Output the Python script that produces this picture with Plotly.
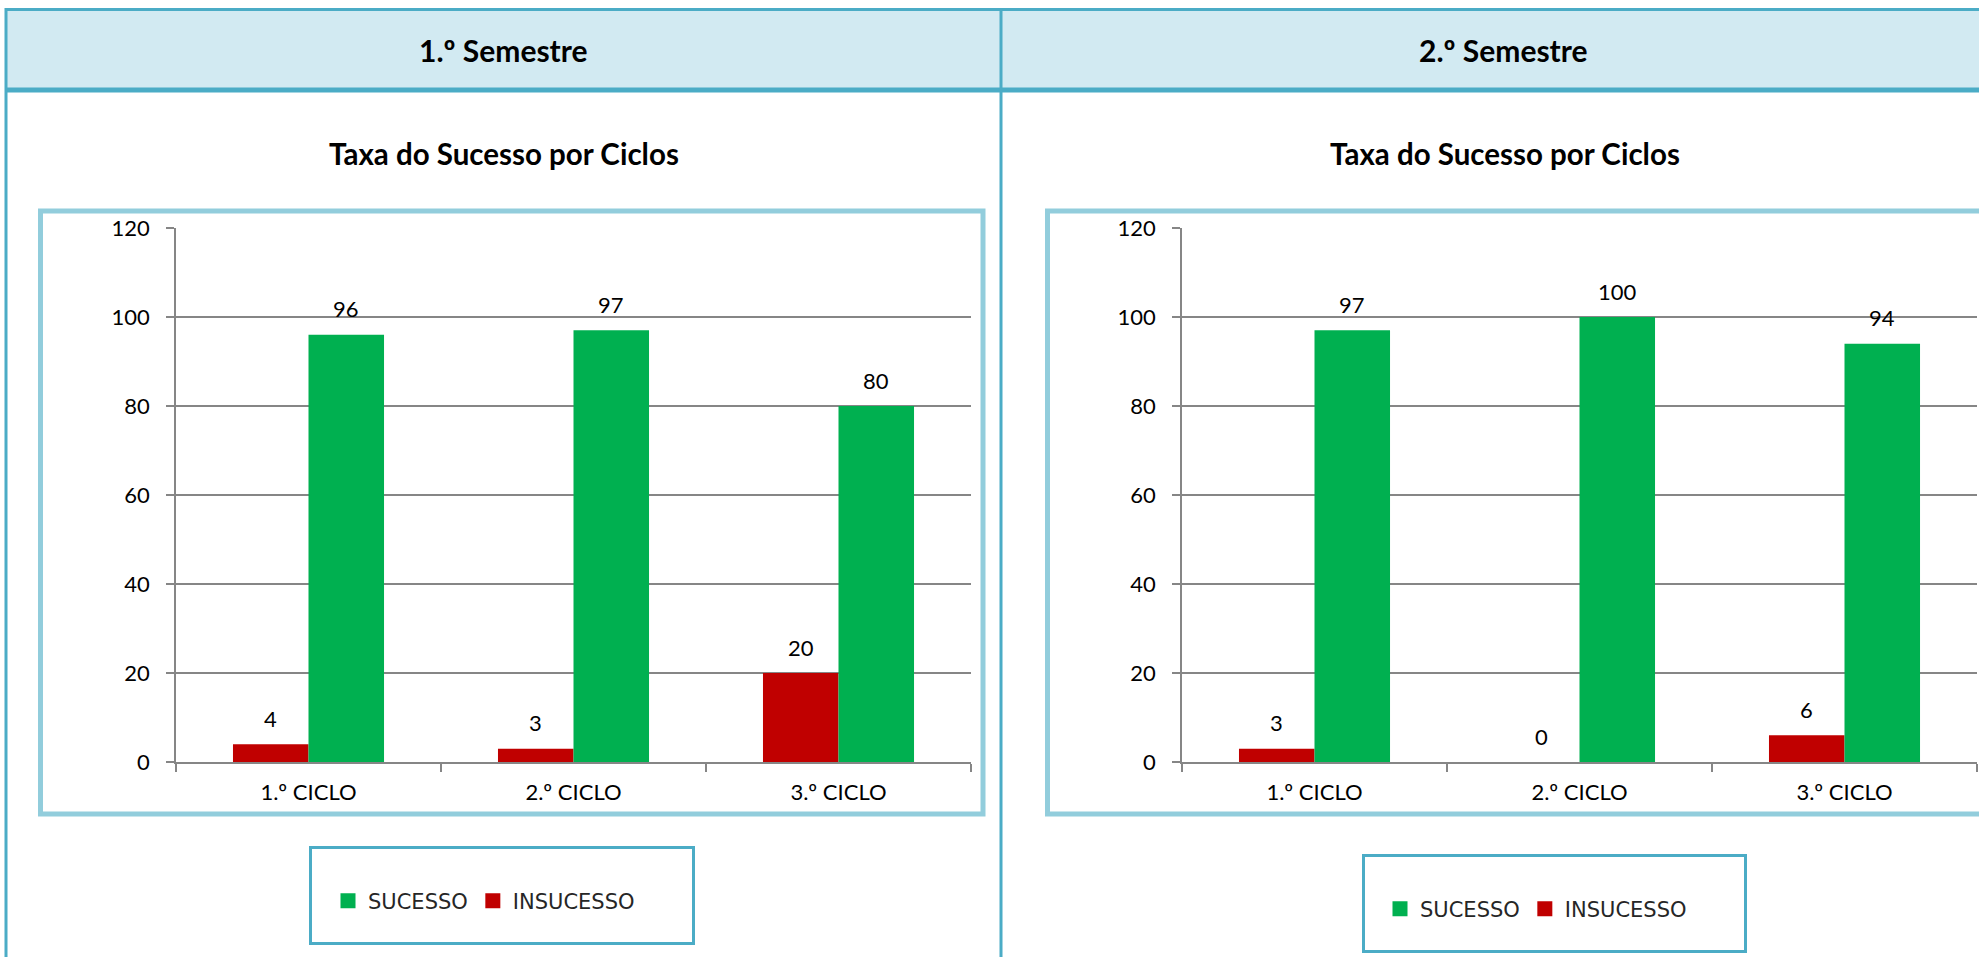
import plotly.graph_objects as go

# --- data ---
categorias = ["1.º CICLO", "2.º CICLO", "3.º CICLO"]
sucesso_s1 = [96, 97, 80]
insucesso_s1 = [4, 3, 20]
sucesso_s2 = [97, 100, 94]
insucesso_s2 = [3, 0, 6]
semestres = ["1.º Semestre", "2.º Semestre"]
titulo = "Taxa do Sucesso por Ciclos"
y_ticks = [0, 20, 40, 60, 80, 100, 120]

W, H = 1979, 957
VERDE = "#00B050"
VERMELHO = "#C00000"
BORDA = "#4BACC6"
BORDA_CLARA = "#92CDDC"
CINZA = "#868686"
TXT_FONT = "Lato"
BAR_W = 75.5  # px, used only to shift the value labels over each bar


def px(x):
    return x / W


def py(y):
    return 1 - y / H


fig = go.Figure()

paineis = [
    ("x", "y", "legend", insucesso_s1, sucesso_s1),
    ("x2", "y2", "legend2", insucesso_s2, sucesso_s2),
]
for xa, ya, leg, ins, suc in paineis:
    for nome, vals, cor, lado in [("INSUCESSO", ins, VERMELHO, -1), ("SUCESSO", suc, VERDE, 1)]:
        fig.add_trace(go.Bar(
            x=categorias, y=vals, name=nome, xaxis=xa, yaxis=ya,
            marker=dict(color=cor, line=dict(width=0)),
            showlegend=False, hoverinfo="skip",
        ))
        # value labels
        for cat, v in zip(categorias, vals):
            fig.add_annotation(
                x=cat, y=v, xref=xa, yref=ya, text=str(v), showarrow=False,
                xanchor="center", yanchor="middle", xshift=lado * BAR_W / 2, yshift=26,
                font=dict(family=TXT_FONT, size=22, color="black"),
            )
    # legend proxies (bigger squares than the default bar swatch)
    for nome, cor in [("SUCESSO", VERDE), ("INSUCESSO", VERMELHO)]:
        fig.add_trace(go.Scatter(
            x=[None], y=[None], mode="markers", name=nome, xaxis=xa, yaxis=ya,
            marker=dict(symbol="square", size=15, color=cor),
            legend=leg, showlegend=True,
        ))

eixo_x = dict(
    showline=True, linecolor=CINZA, linewidth=1.5, showgrid=False,
    ticks="outside", tickson="boundaries", ticklen=8, tickcolor=CINZA, tickwidth=1.5,
    tickfont=dict(family=TXT_FONT, size=22, color="black"),
    ticklabelstandoff=10, fixedrange=True, automargin=False,
)
eixo_y = dict(
    range=[0, 120], tickvals=y_ticks, showgrid=True, gridcolor=CINZA, gridwidth=1.5,
    zeroline=False, showline=True, linecolor=CINZA, linewidth=1.5,
    ticks="outside", ticklen=8, tickcolor=CINZA, tickwidth=1.5,
    tickfont=dict(family=TXT_FONT, size=22, color="black"),
    ticklabelstandoff=12, fixedrange=True, automargin=False,
)

fig.update_layout(
    width=W, height=H, margin=dict(l=0, r=0, t=0, b=0, pad=0, autoexpand=False),
    paper_bgcolor="white", plot_bgcolor="white",
    barmode="group", bargap=0.43, bargroupgap=0,
    xaxis=dict(eixo_x, domain=[px(176), px(971)], anchor="y"),
    yaxis=dict(eixo_y, domain=[py(762), py(228)], anchor="x"),
    xaxis2=dict(eixo_x, domain=[px(1182), px(1977)], anchor="y2"),
    yaxis2=dict(eixo_y, domain=[py(762), py(228)], anchor="x2"),
    legend=dict(orientation="h", x=px(328), y=py(901), xanchor="left", yanchor="middle",
                font=dict(family="DejaVu Sans", size=21, color="#262626"),
                bgcolor="rgba(0,0,0,0)", itemclick=False, itemdoubleclick=False),
    legend2=dict(orientation="h", x=px(1380), y=py(909), xanchor="left", yanchor="middle",
                 font=dict(family="DejaVu Sans", size=21, color="#262626"),
                 bgcolor="rgba(0,0,0,0)", itemclick=False, itemdoubleclick=False),
)

P = dict(xref="paper", yref="paper")
formas = [
    # header background
    dict(type="rect", x0=px(6), x1=px(2010), y0=py(10), y1=py(89),
         fillcolor="#D2EAF2", line=dict(width=0), layer="below", **P),
    # table lines
    dict(type="line", x0=px(5), x1=px(2010), y0=py(9.5), y1=py(9.5), line=dict(color=BORDA, width=3), **P),
    dict(type="line", x0=px(5), x1=px(2010), y0=py(90), y1=py(90), line=dict(color=BORDA, width=5), **P),
    dict(type="line", x0=px(6), x1=px(6), y0=py(8), y1=py(1000), line=dict(color=BORDA, width=3), **P),
    dict(type="line", x0=px(1001), x1=px(1001), y0=py(8), y1=py(1000), line=dict(color=BORDA, width=3), **P),
    # chart boxes
    dict(type="rect", x0=px(40.5), x1=px(983), y0=py(211), y1=py(814),
         line=dict(color=BORDA_CLARA, width=5), layer="below", **P),
    dict(type="rect", x0=px(1047.5), x1=px(2040), y0=py(211), y1=py(814),
         line=dict(color=BORDA_CLARA, width=5), layer="below", **P),
    # legend boxes
    dict(type="rect", x0=px(310.5), x1=px(693.5), y0=py(847.5), y1=py(943.5),
         line=dict(color=BORDA, width=3), **P),
    dict(type="rect", x0=px(1363.5), x1=px(1745.5), y0=py(855.5), y1=py(951.5),
         line=dict(color=BORDA, width=3), **P),
]
fig.update_layout(shapes=formas)

for cx, texto in zip([503.5, 1503], semestres):
    fig.add_annotation(x=px(cx), y=py(50), text=f"<b>{texto}</b>", showarrow=False,
                       xanchor="center", yanchor="middle",
                       font=dict(family=TXT_FONT, size=30, color="black"), **P)
for cx in [503.5, 1505]:
    fig.add_annotation(x=px(cx), y=py(153), text=f"<b>{titulo}</b>", showarrow=False,
                       xanchor="center", yanchor="middle",
                       font=dict(family=TXT_FONT, size=29.5, color="black"), **P)

fig.write_html("out.html", config={"displayModeBar": False},
               post_script="document.body.style.margin='0';document.body.style.overflow='hidden';")
